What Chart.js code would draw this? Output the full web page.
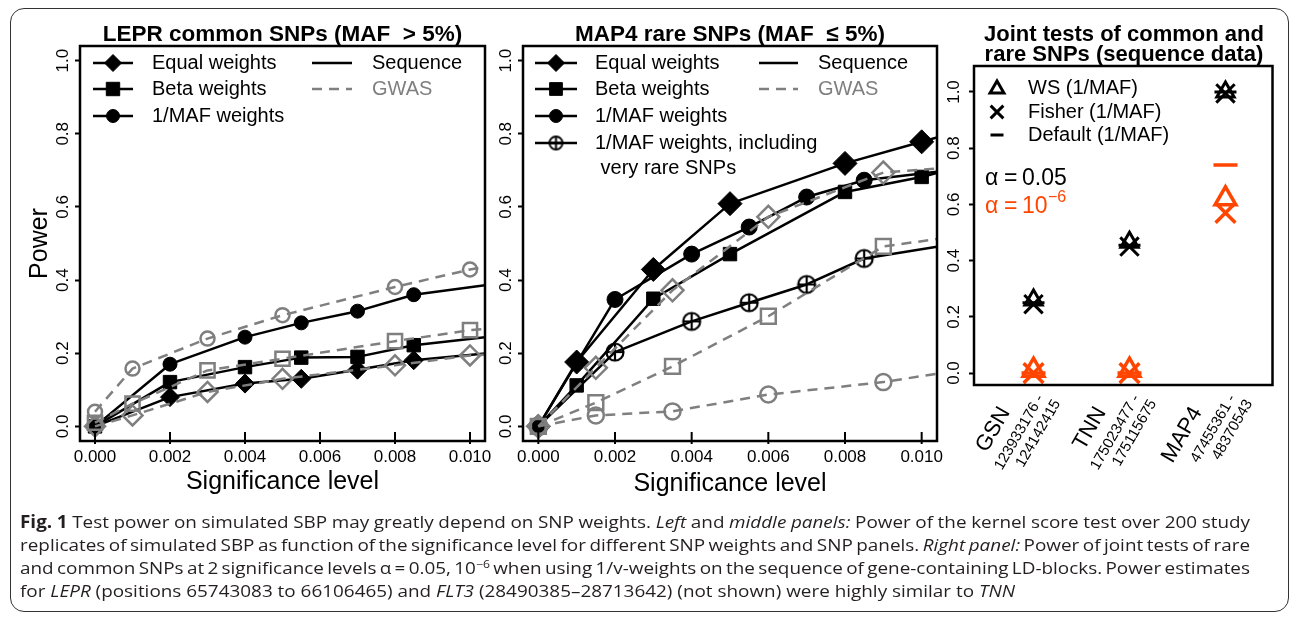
<!DOCTYPE html>
<html><head><meta charset="utf-8">
<script src="https://cdn.jsdelivr.net/npm/chart.js@4.4.1/dist/chart.umd.min.js"></script>
<style>
html,body{margin:0;padding:0;background:#fff;}
body{width:1290px;height:622px;position:relative;overflow:hidden;}
canvas{position:absolute;left:0;top:0;}
#frame{position:absolute;left:10px;top:8px;width:1279px;height:604px;border:1.5px solid #333;border-radius:14px;box-sizing:border-box;}
#caption{position:absolute;left:20px;top:510px;font-family:'Open Sans','Noto Sans',sans-serif;font-size:17px;line-height:23px;color:#231f20;}
#caption div{white-space:nowrap;height:23px;}
#caption span.ln{display:inline-block;transform-origin:0 50%;white-space:nowrap;}
#caption sup{font-size:11px;line-height:0;vertical-align:6px;}
</style></head>
<body>
<div id="frame"></div>
<canvas id="c1" width="1290" height="622"></canvas>
<canvas id="c2" width="1290" height="622"></canvas>
<canvas id="c3" width="1290" height="622"></canvas>
<div id="caption">
<div><span class="ln"><b>Fig. 1</b> Test power on simulated SBP may greatly depend on SNP weights. <i>Left</i> and <i>middle panels:</i> Power of the kernel score test over 200 study</span></div>
<div><span class="ln">replicates of simulated SBP as function of the significance level for different SNP weights and SNP panels. <i>Right panel:</i> Power of joint tests of rare</span></div>
<div><span class="ln">and common SNPs at 2 significance levels α = 0.05, 10<sup>−6</sup> when using 1/v-weights on the sequence of gene-containing LD-blocks. Power estimates</span></div>
<div><span class="ln">for <i>LEPR</i> (positions 65743083 to 66106465) and <i>FLT3</i> (28490385–28713642) (not shown) were highly similar to <i>TNN</i></span></div>
</div>
<script>
// ---------------- DATA ----------------
const xTicks = [0, 0.002, 0.004, 0.006, 0.008, 0.010];
const yTicks = [0, 0.2, 0.4, 0.6, 0.8, 1.0];

// LEPR common SNPs (left panel)
const lepr_seqX      = [0, 0.002, 0.004, 0.0055, 0.007, 0.0085, 0.0104];
const lepr_seqEqual  = [0, 0.080, 0.117, 0.130, 0.155, 0.181, 0.199];
const lepr_seqBeta   = [0, 0.121, 0.162, 0.188, 0.190, 0.222, 0.244];
const lepr_seqMaf    = [0, 0.170, 0.244, 0.283, 0.315, 0.360, 0.386];
const lepr_gwasX     = [0, 0.001, 0.003, 0.005, 0.008, 0.010, 0.0104];
const lepr_gwasEqual = [0, 0.030, 0.094, 0.130, 0.167, 0.194, 0.196];
const lepr_gwasBeta  = [0.01, 0.062, 0.153, 0.185, 0.233, 0.263, 0.266];
const lepr_gwasMaf   = [0.04, 0.158, 0.240, 0.304, 0.381, 0.429, 0.436];

// MAP4 rare SNPs (middle panel)
const map4_seqX_eb    = [0, 0.001, 0.003, 0.005, 0.008, 0.010, 0.0104];
const map4_seqEqual   = [0, 0.176, 0.429, 0.609, 0.719, 0.778, 0.790];
const map4_seqBeta    = [0, 0.112, 0.349, 0.471, 0.641, 0.682, 0.693];
const map4_seqX_maf   = [0, 0.002, 0.004, 0.0055, 0.007, 0.0085, 0.0104];
const map4_seqMaf     = [0, 0.347, 0.471, 0.545, 0.627, 0.673, 0.696];
const map4_seqMafRare = [0, 0.203, 0.287, 0.338, 0.388, 0.459, 0.491];
const map4_gwasX      = [0, 0.0015, 0.0035, 0.006, 0.009, 0.0104];
const map4_gwasEqual  = [0, 0.160, 0.372, 0.573, 0.694, 0.705];
const map4_gwasBeta   = [0, 0.065, 0.164, 0.301, 0.492, 0.512];
const map4_gwasMaf    = [0, 0.030, 0.041, 0.087, 0.121, 0.144];

// Joint tests (right panel)
const genes = ['GSN', 'TNN', 'MAP4'];
const genePositions = [['123933176 -', '124142415'], ['175023477 -', '175115675'], ['47455361 -', '48370543']];
const ws_a005      = [0.26, 0.465, 1.0];
const fisher_a005  = [0.245, 0.45, 0.995];
const default_a005 = [0.25, 0.455, 1.0];
const ws_a1e6      = [0.01, 0.01, 0.62];
const fisher_a1e6  = [0, 0, 0.57];
const default_a1e6 = [0, 0, 0.74];

// ---------------- STYLE ----------------
const FF = "'Liberation Sans', Arial, Helvetica, sans-serif";
const BLACK = '#000', GRAY = '#7f7f7f', RED = '#ff4500', NONE = 'rgba(0,0,0,0)';
Chart.defaults.font.family = FF;
Chart.defaults.color = '#000';

function makeCirclePlus(r, lw, color) {
  const s = Math.ceil(2 * r + lw + 2);
  const c = document.createElement('canvas'); c.width = s; c.height = s;
  const g = c.getContext('2d'); const m = s / 2;
  g.strokeStyle = color; g.lineWidth = lw;
  g.beginPath(); g.arc(m, m, r, 0, 2 * Math.PI); g.stroke();
  g.beginPath(); g.moveTo(m - r, m); g.lineTo(m + r, m); g.moveTo(m, m - r); g.lineTo(m, m + r); g.stroke();
  return c;
}
const circlePlusImg = makeCirclePlus(8.5, 2.2, BLACK);
const circlePlusSmall = makeCirclePlus(6.5, 2, BLACK);

function pts(xs, ys) { return xs.map((x, i) => ({ x: x, y: ys[i] })); }
function radii(xs, r) { return xs.map((x, i) => (i === xs.length - 1 ? 0 : r)); }
function seqDS(xs, ys, style, r) {
  return { data: pts(xs, ys), borderColor: BLACK, borderWidth: 2.5, borderJoinStyle: 'round',
    pointStyle: style, pointRadius: radii(xs, r), pointBackgroundColor: BLACK, pointBorderColor: BLACK,
    pointBorderWidth: 1, showLine: true, fill: false, tension: 0 };
}
function gwasDS(xs, ys, style, r) {
  return { data: pts(xs, ys), borderColor: GRAY, borderWidth: 2.5, borderDash: [10, 7], borderJoinStyle: 'round',
    pointStyle: style, pointRadius: radii(xs, r), pointBackgroundColor: NONE, pointBorderColor: GRAY,
    pointBorderWidth: 2.5, showLine: true, fill: false, tension: 0 };
}

function drawMarker(ctx, style, x, y, r, fill, stroke, lw) {
  ctx.save();
  if (style instanceof HTMLCanvasElement) { ctx.drawImage(style, x - style.width / 2, y - style.height / 2); ctx.restore(); return; }
  ctx.lineWidth = lw; ctx.strokeStyle = stroke; ctx.fillStyle = fill; ctx.beginPath();
  if (style === 'circle') ctx.arc(x, y, r, 0, 2 * Math.PI);
  else if (style === 'rect') { const h = r * Math.SQRT1_2; ctx.rect(x - h, y - h, 2 * h, 2 * h); }
  else if (style === 'rectRot') { ctx.moveTo(x - r, y); ctx.lineTo(x, y - r); ctx.lineTo(x + r, y); ctx.lineTo(x, y + r); ctx.closePath(); }
  else if (style === 'triangle') { ctx.moveTo(x, y - r); ctx.lineTo(x + r * 0.866, y + r * 0.5); ctx.lineTo(x - r * 0.866, y + r * 0.5); ctx.closePath(); }
  else if (style === 'crossRot') { const h = r * Math.SQRT1_2; ctx.moveTo(x - h, y - h); ctx.lineTo(x + h, y + h); ctx.moveTo(x + h, y - h); ctx.lineTo(x - h, y + h); }
  else if (style === 'line') { ctx.moveTo(x - r, y); ctx.lineTo(x + r, y); }
  if (fill !== NONE && style !== 'crossRot' && style !== 'line') ctx.fill();
  ctx.stroke(); ctx.restore();
}
function txt(ctx, s, x, y, font, color, align, baseline) {
  ctx.save(); ctx.font = font; ctx.fillStyle = color; ctx.textAlign = align || 'left';
  ctx.textBaseline = baseline || 'middle'; ctx.fillText(s, x, y); ctx.restore();
}
function legLine(ctx, x0, x1, y, color, dash) {
  ctx.save(); ctx.strokeStyle = color; ctx.lineWidth = 2.5; ctx.setLineDash(dash || []);
  ctx.beginPath(); ctx.moveTo(x0, y); ctx.lineTo(x1, y); ctx.stroke(); ctx.restore();
}

function makeDeco(extra, inTicks) {
  return {
    id: 'deco',
    afterDraw(chart) {
      const { ctx, chartArea: a } = chart;
      ctx.save();
      ctx.lineWidth = 2.5; ctx.strokeStyle = BLACK;
      ctx.strokeRect(a.left, a.top, a.right - a.left, a.bottom - a.top);
      if (inTicks) {
        const xs = chart.scales.x; ctx.lineWidth = 2; ctx.beginPath();
        xs.ticks.forEach(t => { const px = xs.getPixelForValue(t.value); ctx.moveTo(px, a.bottom - 9); ctx.lineTo(px, a.bottom + 3); });
        ctx.stroke();
      }
      ctx.restore();
      extra(chart, ctx);
    }
  };
}

function xScale(min, max, titlePadBottom) {
  return { type: 'linear', min: min, max: max,
    afterBuildTicks: s => { s.ticks = xTicks.map(v => ({ value: v })); },
    ticks: { callback: v => Number(v).toFixed(3), font: { size: 17 }, padding: 6, maxRotation: 0, minRotation: 0, autoSkip: false },
    grid: { display: false, drawTicks: false }, border: { display: false },
    title: { display: true, text: 'Significance level', font: { size: 25 }, padding: { top: 0, bottom: titlePadBottom } },
    afterFit: s => { s.height = 60; } };
}
function yScale(min, max, width, pad, withTitle) {
  return { type: 'linear', min: min, max: max,
    afterBuildTicks: s => { s.ticks = yTicks.map(v => ({ value: v })); },
    ticks: { callback: v => Number(v).toFixed(1), font: { size: 17 }, padding: pad, minRotation: 90, maxRotation: 90, crossAlign: 'center', autoSkip: false },
    grid: { display: true, drawOnChartArea: false, drawTicks: true, tickLength: 5, tickColor: BLACK, tickWidth: 2, color: BLACK },
    border: { display: false },
    title: { display: withTitle, text: 'Power', font: { size: 25 }, padding: { top: 5, bottom: 0 } },
    afterFit: s => { s.width = width; } };
}
const baseOpts = { responsive: false, animation: false, events: [], plugins: { legend: { display: false }, tooltip: { enabled: false } } };

// ---------------- LEFT PANEL ----------------
new Chart(document.getElementById('c1'), {
  type: 'scatter',
  data: { datasets: [
    gwasDS(lepr_gwasX, lepr_gwasMaf, 'circle', 7),
    gwasDS(lepr_gwasX, lepr_gwasBeta, 'rect', 10),
    gwasDS(lepr_gwasX, lepr_gwasEqual, 'rectRot', 10),
    seqDS(lepr_seqX, lepr_seqEqual, 'rectRot', 9.5),
    seqDS(lepr_seqX, lepr_seqMaf, 'circle', 7),
    seqDS(lepr_seqX, lepr_seqBeta, 'rect', 9.5)
  ] },
  options: Object.assign({}, baseOpts, {
    layout: { padding: { left: 20, top: 46, right: 805, bottom: 121 } },
    scales: { x: xScale(-0.0004, 0.0104, 4), y: yScale(-0.04, 1.04, 60, 0, true) }
  }),
  plugins: [makeDeco((chart, ctx) => {
    txt(ctx, 'LEPR common SNPs (MAF  > 5%)', 282.5, 41, 'bold 22.5px ' + FF, BLACK, 'center', 'alphabetic');
    const rows = [['rectRot', 8.5, 'Equal weights', 63], ['rect', 9.5, 'Beta weights', 89], ['circle', 6.5, '1/MAF weights', 116]];
    rows.forEach(r => {
      legLine(ctx, 93, 133, r[3], BLACK);
      drawMarker(ctx, r[0], 113, r[3], r[1], BLACK, BLACK, 1);
      txt(ctx, r[2], 152, r[3], '20px ' + FF, BLACK);
    });
    legLine(ctx, 312, 352, 63, BLACK);
    legLine(ctx, 312, 352, 89, GRAY, [10, 7]);
    txt(ctx, 'Sequence', 372, 63, '20px ' + FF, BLACK);
    txt(ctx, 'GWAS', 372, 89, '20px ' + FF, GRAY);
  }, true)]
});

// ---------------- MIDDLE PANEL ----------------
new Chart(document.getElementById('c2'), {
  type: 'scatter',
  data: { datasets: [
    gwasDS(map4_gwasX, map4_gwasMaf, 'circle', 8),
    gwasDS(map4_gwasX, map4_gwasBeta, 'rect', 10.5),
    gwasDS(map4_gwasX, map4_gwasEqual, 'rectRot', 11),
    seqDS(map4_seqX_eb, map4_seqEqual, 'rectRot', 12),
    seqDS(map4_seqX_maf, map4_seqMaf, 'circle', 8),
    seqDS(map4_seqX_eb, map4_seqBeta, 'rect', 9.5),
    Object.assign(seqDS(map4_seqX_maf, map4_seqMafRare, circlePlusImg, 8.5), { pointBackgroundColor: NONE })
  ] },
  options: Object.assign({}, baseOpts, {
    layout: { padding: { left: 483, top: 46, right: 353, bottom: 121 } },
    scales: { x: xScale(-0.0004, 0.0104, 2), y: yScale(-0.04, 1.04, 40, 0, false) }
  }),
  plugins: [makeDeco((chart, ctx) => {
    txt(ctx, 'MAP4 rare SNPs (MAF  \u2264 5%)', 730, 41, 'bold 22.5px ' + FF, BLACK, 'center', 'alphabetic');
    const rows = [['rectRot', 8.5, 'Equal weights', 63], ['rect', 9, 'Beta weights', 89], ['circle', 6.5, '1/MAF weights', 116], [circlePlusSmall, 6.5, '1/MAF weights, including', 143]];
    rows.forEach(r => {
      legLine(ctx, 535, 577, r[3], BLACK);
      drawMarker(ctx, r[0], 556, r[3], r[1], BLACK, BLACK, 1);
      txt(ctx, r[2], 595, r[3], '20px ' + FF, BLACK);
    });
    txt(ctx, ' very rare SNPs', 595, 168, '20px ' + FF, BLACK);
    legLine(ctx, 759, 798, 63, BLACK);
    legLine(ctx, 759, 798, 89, GRAY, [10, 7]);
    txt(ctx, 'Sequence', 818, 63, '20px ' + FF, BLACK);
    txt(ctx, 'GWAS', 818, 89, '20px ' + FF, GRAY);
  }, true)]
});

// ---------------- RIGHT PANEL ----------------
function jointDS(vals, style, r, color, lw) {
  return { data: vals.map((v, i) => ({ x: i + 1, y: v })), showLine: false, pointStyle: style, pointRadius: r,
    pointBackgroundColor: NONE, pointBorderColor: color, pointBorderWidth: lw };
}
new Chart(document.getElementById('c3'), {
  type: 'scatter',
  data: { datasets: [
    jointDS(default_a005, 'line', 11, BLACK, 3),
    jointDS(fisher_a005, 'crossRot', 13, BLACK, 3),
    jointDS(ws_a005, 'triangle', 10, BLACK, 3),
    jointDS(default_a1e6, 'line', 12, RED, 3.5),
    jointDS(fisher_a1e6, 'crossRot', 14, RED, 3.5),
    jointDS(ws_a1e6, 'triangle', 12, RED, 3.5)
  ] },
  options: Object.assign({}, baseOpts, {
    layout: { padding: { left: 934, top: 66, right: 16, bottom: 237 } },
    scales: {
      x: { type: 'linear', min: 0.38, max: 3.49, ticks: { display: false }, grid: { display: false, drawTicks: false }, border: { display: false }, afterFit: s => { s.height = 0; } },
      y: yScale(-0.0425, 1.0925, 40, 3, false)
    }
  }),
  plugins: [makeDeco((chart, ctx) => {
    txt(ctx, 'Joint tests of common and', 1124, 41, 'bold 22px ' + FF, BLACK, 'center', 'alphabetic');
    txt(ctx, 'rare SNPs (sequence data)', 1124, 60.5, 'bold 22px ' + FF, BLACK, 'center', 'alphabetic');
    drawMarker(ctx, 'triangle', 997, 89, 8, NONE, BLACK, 3);
    drawMarker(ctx, 'crossRot', 997, 112, 9, NONE, BLACK, 3);
    drawMarker(ctx, 'line', 997, 135, 6.5, NONE, BLACK, 3);
    txt(ctx, 'WS (1/MAF)', 1028, 88, '20px ' + FF, BLACK);
    txt(ctx, 'Fisher (1/MAF)', 1028, 112, '20px ' + FF, BLACK);
    txt(ctx, 'Default (1/MAF)', 1028, 135, '20px ' + FF, BLACK);
    const f = '23px ' + FF;
    txt(ctx, '\u03B1', 985, 185, f, BLACK, 'left', 'alphabetic');
    txt(ctx, '=', 1004, 185, f, BLACK, 'left', 'alphabetic');
    txt(ctx, '0.05', 1022, 185, f, BLACK, 'left', 'alphabetic');
    txt(ctx, '\u03B1', 985, 213, f, RED, 'left', 'alphabetic');
    txt(ctx, '=', 1004, 213, f, RED, 'left', 'alphabetic');
    txt(ctx, '10', 1022, 213, f, RED, 'left', 'alphabetic');
    txt(ctx, '\u22126', 1048, 202, '16px ' + FF, RED, 'left', 'alphabetic');
    const xs = chart.scales.x;
    genes.forEach((g, i) => {
      const px = xs.getPixelForValue(i + 1);
      ctx.save(); ctx.translate(px - 23, 412); ctx.rotate(-Math.PI / 3);
      ctx.fillStyle = BLACK; ctx.textAlign = 'right'; ctx.textBaseline = 'alphabetic';
      ctx.font = '22px ' + FF; ctx.fillText(g, 0, 0);
      ctx.font = '15px ' + FF;
      ctx.fillText(genePositions[i][0], 29, 22);
      ctx.fillText(genePositions[i][1], 33, 39);
      ctx.restore();
    });
  }, false)]
});

// ---------------- CAPTION (justified lines) ----------------
const captionLastLineWidth = 995, captionFullWidth = 1230;
function fitCaption() {
  const spans = Array.from(document.querySelectorAll('#caption span.ln'));
  spans.forEach(s => { s.style.transform = 'none'; s.style.wordSpacing = '0px'; });
  const w4 = spans[3].getBoundingClientRect().width;
  if (!(w4 > 0)) return;
  const sc = captionLastLineWidth / w4;
  spans.forEach((s, i) => {
    if (i < 3) {
      const w = s.getBoundingClientRect().width;
      const n = (s.textContent.match(/ /g) || []).length;
      s.style.wordSpacing = ((captionFullWidth / sc - w) / n) + 'px';
    }
    s.style.transform = 'scaleX(' + sc + ')';
  });
}
fitCaption();
if (document.fonts && document.fonts.ready) document.fonts.ready.then(fitCaption);
</script>
</body></html>
